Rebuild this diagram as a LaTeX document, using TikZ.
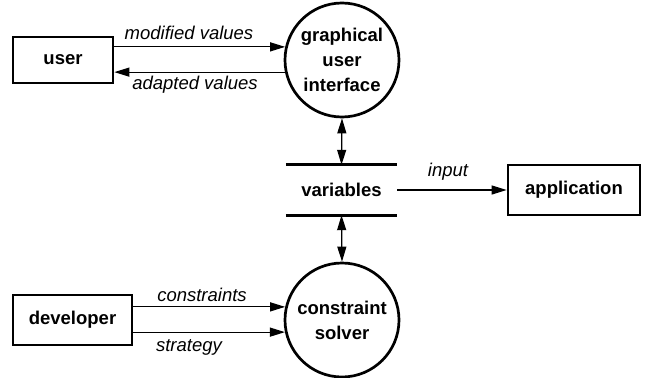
\documentclass[tikz,border=0pt]{standalone}
\usepackage{fontspec}
\setmainfont{Liberation Sans}
\usetikzlibrary{arrows.meta}
\begin{document}
\begin{tikzpicture}[x=1pt,y=-1pt,
  every node/.style={font=\fontsize{18.5}{25}\selectfont},
  entity/.style={draw,line width=2.7pt,inner sep=0pt,font=\fontsize{18.5}{25}\selectfont\bfseries},
  process/.style={draw,circle,line width=2.7pt,minimum size=114pt,inner sep=0pt,align=center,font=\fontsize{18.5}{25}\selectfont\bfseries},
  store/.style={minimum width=111pt,minimum height=50pt,inner sep=0pt,font=\fontsize{18.5}{25}\selectfont\bfseries},
  flow/.style={line width=1.2pt,-{Triangle[length=15pt,width=9pt]}},
  dflow/.style={line width=1.2pt,{Triangle[length=15pt,width=9pt]}-{Triangle[length=15pt,width=9pt]}},
  lbl/.style={font=\fontsize{18.5}{25}\selectfont\itshape,inner sep=0pt}]
\useasboundingbox (0,0) rectangle (647,377);

% external entities
\node[entity,minimum width=100pt,minimum height=46pt] (user) at (63,60) {user};
\node[entity,minimum width=119pt,minimum height=50pt] (dev) at (72.5,320) {developer};
\node[entity,minimum width=132pt,minimum height=50pt] (app) at (574,190) {application};

% processes
\node[process] (gui) at (342,60) {graphical\\user\\interface};
\node[process] (solver) at (342,320) {constraint\\solver};

% data store
\node[store] (vars) at (341.5,190) {variables};
\draw[line width=2.7pt] (vars.north west) -- (vars.north east)
                        (vars.south west) -- (vars.south east);

% flows
\draw[flow] (gui.167.85 -| user.east) -- (gui.167.85);
\draw[flow] (gui.192.15) -- (gui.192.15 -| user.east);
\draw[flow] (vars.east) -- (app.west);
\draw[dflow] (gui.south) -- (vars.north);
\draw[dflow] (vars.south) -- (solver.north);
\draw[flow] (solver.167.4 -| dev.east) -- (solver.167.4);
\draw[flow] (solver.192.6 -| dev.east) -- (solver.192.6);

% flow labels
\node[lbl] (lmod) at (189,33) {modified values};
\node[lbl] (ladp) at (195,85) {adapted values};
\node[lbl] (linp) at (448,172) {input};
\node[lbl] (lcon) at (202,295) {constraints};
\node[lbl] (lstr) at (189,347) {strategy};
\end{tikzpicture}
\end{document}
